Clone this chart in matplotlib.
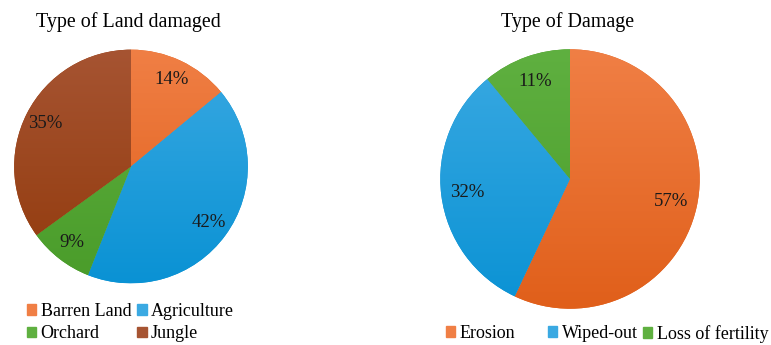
import numpy as np
import matplotlib
matplotlib.use("Agg")
import matplotlib.pyplot as plt
from matplotlib.patches import Patch
from matplotlib.colors import LinearSegmentedColormap, to_rgb

plt.rcParams['font.family'] = ['Liberation Serif', 'DejaVu Serif']

# land type data
land_labels = ["Barren Land", "Agriculture", "Orchard", "Jungle"]
land_values = [14, 42, 9, 35]

# damage type data
damage_labels = ["Erosion", "Wiped-out", "Loss of fertility"]
damage_values = [57, 32, 11]

# (top colour, bottom colour) for the shaded slices
orange = ("#f07f45", "#e05f1a")
blue = ("#3aa9e2", "#0a92d4")
green = ("#5fb040", "#4a9c2a")
brown = ("#a65432", "#923a0c")

land_colors = [orange, blue, green, brown]
damage_colors = [orange, blue, green]

W, H = 771, 345
fig = plt.figure(figsize=(W / 100, H / 100), dpi=100)


def shaded_pie(ax, values, colors, pctdist):
    wedges, _, autotexts = ax.pie(
        values, colors=[c[1] for c in colors], startangle=90, counterclock=False,
        radius=1, autopct=lambda p: f"{p:.0f}%", pctdistance=pctdist,
        wedgeprops=dict(linewidth=0), textprops=dict(fontsize=13.5, color="#1a1a1a"))
    grad = np.linspace(0, 1, 256).reshape(-1, 1)
    for w, (top, bot) in zip(wedges, colors):
        cmap = LinearSegmentedColormap.from_list("g", [to_rgb(top), to_rgb(bot)])
        im = ax.imshow(grad, cmap=cmap, extent=[-1, 1, -1, 1], origin="upper",
                       aspect="auto", zorder=w.get_zorder() + 0.1)
        im.set_clip_path(w)
    for t in autotexts:
        t.set_zorder(5)
    ax.set_xlim(-1.01, 1.01)
    ax.set_ylim(-1.01, 1.01)
    ax.set_aspect("equal")
    ax.axis("off")
    return wedges


def place(cx, cy, r):
    # centre and radius in pixels, y from top
    return [(cx - r) / W, (H - cy - r) / H, 2 * r / W, 2 * r / H]


ax1 = fig.add_axes(place(131, 166.5, 118))
shaded_pie(ax1, land_values, land_colors, 0.82)
fig.text(128 / W, 1 - 22 / H, "Type of Land damaged", ha="center", va="center", fontsize=14.4)

ax2 = fig.add_axes(place(570, 179, 131))
shaded_pie(ax2, damage_values, damage_colors, 0.80)
fig.text(568 / W, 1 - 22 / H, "Type of Damage", ha="center", va="center", fontsize=14.4)

leg_kw = dict(frameon=False, fontsize=13, handlelength=0.5, handleheight=0.5,
              handletextpad=0.25, borderaxespad=0, borderpad=0, labelspacing=0.3)

# legend fills column by column, so order the handles to read row by row
h1 = [Patch(color=land_colors[i][0], label=land_labels[i]) for i in (0, 2, 1, 3)]
fig.legend(handles=h1, ncol=2, loc="upper left", bbox_to_anchor=(27 / W, 1 - 303 / H),
           columnspacing=0.35, **leg_kw)

# damage legend: one entry per slot so the gaps follow the text widths
damage_leg_x = [446, 548, 643]
for c, l, x in zip(damage_colors, damage_labels, damage_leg_x):
    fig.legend(handles=[Patch(color=c[0], label=l)], loc="upper left",
               bbox_to_anchor=(x / W, 1 - 325 / H), **leg_kw)

fig.savefig("out.png", dpi=100, facecolor="white")
